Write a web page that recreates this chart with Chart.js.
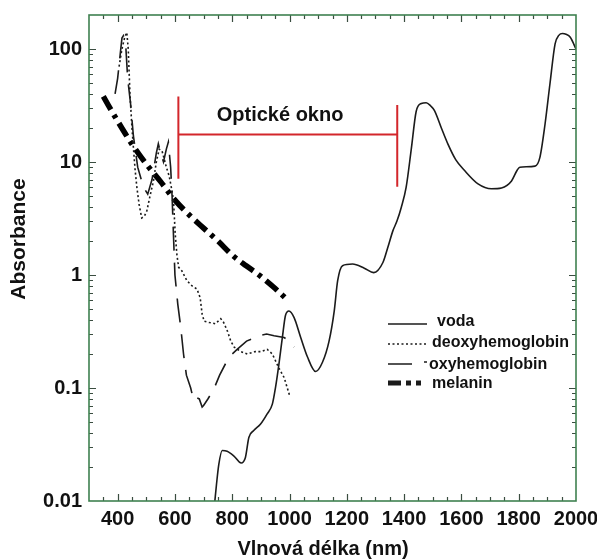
<!DOCTYPE html>
<html>
<head>
<meta charset="utf-8">
<script src="https://cdn.jsdelivr.net/npm/chart.js@4.4.1/dist/chart.umd.min.js"></script>
<style>
  html, body { margin: 0; padding: 0; background: #fff; }
  #wrap { width: 597px; height: 560px; }
</style>
</head>
<body>
<div id="wrap"><canvas id="c" width="597" height="560"></canvas></div>
<script>
// Absorption spectra (wavelength in nm, absorbance on a log scale)
const waterNm  = [739, 745, 753, 765, 782, 806, 831, 846, 858, 875, 899, 922, 940, 951, 963, 975, 986, 998, 1016, 1039, 1062, 1091, 1115, 1138, 1156, 1168, 1185, 1220, 1261, 1294, 1326, 1343, 1361, 1375, 1390, 1407, 1425, 1442, 1460, 1477, 1492, 1506, 1530, 1553, 1580, 1611, 1658, 1705, 1740, 1775, 1795, 1804, 1857, 1874, 1892, 1909, 1927, 1940, 1953, 1965, 1980, 2000];
const waterAbs = [0.0098, 0.014, 0.021, 0.028, 0.0276, 0.025, 0.0217, 0.0243, 0.0365, 0.042, 0.048, 0.059, 0.072, 0.101, 0.163, 0.28, 0.44, 0.48, 0.42, 0.28, 0.19, 0.14, 0.169, 0.26, 0.48, 0.89, 1.21, 1.25, 1.15, 1.05, 1.29, 1.75, 2.47, 3.0, 3.96, 5.96, 13, 28, 33, 33.5, 31.5, 28.5, 20, 14.4, 10.5, 8.4, 6.4, 5.8, 5.9, 6.8, 8.5, 9.0, 9.2, 11, 21.7, 49, 111, 132, 137, 135, 127, 100];

const deoxyNm  = [405, 415, 425, 432, 437, 443, 450, 455, 461, 467, 475, 484, 493, 502, 513, 525, 535, 545, 555, 561, 570, 580, 590, 595, 601, 607, 613, 624, 642, 660, 677, 688, 695, 702, 720, 741, 760, 770, 783, 795, 807, 830, 853, 880, 900, 922, 940, 963, 981, 1002];
const deoxyAbs = [70, 100, 128, 140, 100, 40, 20, 13.4, 8.5, 6, 4.2, 3.2, 3.3, 3.7, 5, 6.8, 10, 13, 12.5, 11, 9, 7.5, 5.5, 4.6, 2.3, 1.5, 1.17, 1.09, 0.89, 0.8, 0.75, 0.63, 0.45, 0.39, 0.38, 0.37, 0.41, 0.38, 0.32, 0.26, 0.23, 0.21, 0.2, 0.21, 0.21, 0.22, 0.2, 0.15, 0.124, 0.083];

const oxyNm  = [391, 400, 409, 415, 420, 428, 435, 445, 455, 470, 490, 505, 520, 535, 542, 550, 560, 570, 577, 585, 590, 595, 600, 610, 620, 630, 640, 655, 665, 675, 685, 695, 700, 715, 736, 756, 776, 800, 817, 850, 893, 920, 946, 981, 1000, 1016];
const oxyAbs = [40, 55, 90, 125, 131, 110, 55, 33, 17, 9, 6, 5.2, 7, 12, 14.5, 12, 10, 13, 15, 9, 5, 2.2, 1.0, 0.55, 0.35, 0.2, 0.13, 0.1, 0.078, 0.082, 0.08, 0.068, 0.07, 0.08, 0.098, 0.13, 0.163, 0.2, 0.22, 0.26, 0.29, 0.3, 0.29, 0.28, 0.26, 0.23];

const melaninNm  = [350, 400, 450, 500, 550, 600, 650, 700, 750, 800, 850, 900, 950, 990];
const melaninAbs = [38, 23, 14.4, 9.6, 6.7, 4.6, 3.4, 2.6, 2.0, 1.5, 1.2, 0.97, 0.76, 0.61];

// Optical window bracket
const windowNm = [612, 1376];
const windowLevel = 17.5;
const windowLeftBar = [38, 7.1];
const windowRightBar = [32, 6.05];
const windowLabel = 'Optické okno';
const windowLabelAt = [967, 25.7];

const seriesNames = ['voda', 'deoxyhemoglobin', 'oxyhemoglobin', 'melanin'];
const xTickValues = [400, 600, 800, 1000, 1200, 1400, 1600, 1800, 2000];
const yTickValues = [0.01, 0.1, 1, 10, 100];
const yTickLabels = ['0.01', '0.1', '1', '10', '100'];
const xTitle = 'Vlnová délka (nm)';
const yTitle = 'Absorbance';

const pts = (xs, ys) => xs.map((x, i) => ({ x, y: ys[i] }));

const INK = '#1b1b1b';
const RED = '#d3262b';
const FONT = '"Liberation Sans", Arial, Helvetica, sans-serif';

const bracket = [
  { x: windowNm[0], y: windowLeftBar[0] }, { x: windowNm[0], y: windowLeftBar[1] },
  { x: windowNm[0], y: null },
  { x: windowNm[0], y: windowLevel }, { x: windowNm[1], y: windowLevel },
  { x: windowNm[1], y: null },
  { x: windowNm[1], y: windowRightBar[0] }, { x: windowNm[1], y: windowRightBar[1] }
];

// Axis sizes are fixed so the plot frame sits at a known place
const fixScale = (w, h) => s => {
  if (w !== null) s.width = w;
  if (h !== null) s.height = h;
  s.paddingLeft = 0; s.paddingRight = 0; s.paddingTop = 0; s.paddingBottom = 0;
};

// Frame, inward ticks, titles, legend and bracket label
const decorations = {
  id: 'decorations',
  afterDatasetsDraw(chart) {
    const { ctx, chartArea: a, scales: { x, y } } = chart;
    ctx.save();

    // inward tick marks on all four sides
    ctx.strokeStyle = '#3a4d40';
    ctx.lineWidth = 1.2;
    ctx.beginPath();
    for (let v = 350; v < 2000; v += 50) {
      const px = Math.round(x.getPixelForValue(v)) + 0.5;
      const len = v % 200 === 0 ? 7 : 4;
      ctx.moveTo(px, a.bottom); ctx.lineTo(px, a.bottom - len);
      ctx.moveTo(px, a.top); ctx.lineTo(px, a.top + len);
    }
    for (let e = -2; e <= 2; e++) {
      for (let m = 1; m <= 9; m++) {
        const v = m * Math.pow(10, e);
        if (v <= 0.01 || v >= 200) continue;
        const py = Math.round(y.getPixelForValue(v)) + 0.5;
        const len = m === 1 ? 7 : 4;
        ctx.moveTo(a.left, py); ctx.lineTo(a.left + len, py);
        ctx.moveTo(a.right, py); ctx.lineTo(a.right - len, py);
      }
    }
    ctx.stroke();

    // plot frame
    ctx.strokeStyle = '#3f8150';
    ctx.lineWidth = 1.6;
    ctx.strokeRect(a.left, a.top, a.right - a.left, a.bottom - a.top);

    // axis titles
    ctx.fillStyle = '#111';
    ctx.textAlign = 'center';
    ctx.textBaseline = 'middle';
    ctx.font = 'bold 20px ' + FONT;
    ctx.fillText(xTitle, 323, 549);
    ctx.save();
    ctx.translate(19, 239);
    ctx.rotate(-Math.PI / 2);
    ctx.font = 'bold 21px ' + FONT;
    ctx.fillText(yTitle, 0, 0);
    ctx.restore();

    // optical window label
    ctx.font = 'bold 20px ' + FONT;
    ctx.fillText(windowLabel, x.getPixelForValue(windowLabelAt[0]), y.getPixelForValue(windowLabelAt[1]));

    // legend
    ctx.textAlign = 'left';
    ctx.font = 'bold 16px ' + FONT;
    ctx.strokeStyle = INK;
    ctx.lineCap = 'butt';

    ctx.lineWidth = 1.5; ctx.setLineDash([]);
    ctx.beginPath(); ctx.moveTo(388, 324); ctx.lineTo(427, 324); ctx.stroke();
    ctx.fillText(seriesNames[0], 437, 322);

    ctx.lineWidth = 1.5; ctx.setLineDash([2, 2.5]);
    ctx.beginPath(); ctx.moveTo(388, 344); ctx.lineTo(428, 344); ctx.stroke();
    ctx.setLineDash([]);
    ctx.fillText(seriesNames[1], 432, 343);

    ctx.lineWidth = 1.5;
    ctx.beginPath(); ctx.moveTo(388, 364); ctx.lineTo(412, 364); ctx.moveTo(424, 362); ctx.lineTo(427, 362); ctx.stroke();
    ctx.fillText(seriesNames[2], 429, 365);

    ctx.lineWidth = 5;
    ctx.beginPath(); ctx.moveTo(388, 383); ctx.lineTo(401, 383);
    ctx.moveTo(406, 383); ctx.lineTo(411, 383);
    ctx.moveTo(416, 383); ctx.lineTo(421, 383); ctx.stroke();
    ctx.fillText(seriesNames[3], 432, 384);

    ctx.restore();
  }
};

new Chart(document.getElementById('c'), {
  type: 'line',
  data: {
    datasets: [
      { label: seriesNames[0], data: pts(waterNm, waterAbs), borderColor: INK, borderWidth: 1.6, cubicInterpolationMode: 'monotone' },
      { label: seriesNames[1], data: pts(deoxyNm, deoxyAbs), borderColor: INK, borderWidth: 1.6, borderDash: [2, 2.5], tension: 0 },
      { label: seriesNames[2], data: pts(oxyNm, oxyAbs), borderColor: INK, borderWidth: 1.6, borderDash: [24, 12], tension: 0 },
      { label: seriesNames[3], data: pts(melaninNm, melaninAbs), borderColor: '#000', borderWidth: 5.5, borderDash: [15, 6, 4, 6], cubicInterpolationMode: 'monotone' },
      { label: windowLabel, data: bracket, borderColor: RED, borderWidth: 2, spanGaps: false, tension: 0 }
    ]
  },
  options: {
    responsive: false,
    animation: false,
    devicePixelRatio: 1,
    layout: { padding: { top: 15, right: 21, left: 0, bottom: 0 } },
    elements: { point: { radius: 0 }, line: { fill: false } },
    plugins: { legend: { display: false }, tooltip: { enabled: false } },
    scales: {
      x: {
        type: 'linear',
        min: 300, max: 2000,
        grid: { display: false, drawTicks: false },
        border: { display: false },
        afterBuildTicks: s => { s.ticks = xTickValues.map(v => ({ value: v })); },
        afterFit: fixScale(null, 59),
        ticks: {
          padding: 6,
          color: '#111',
          maxRotation: 0,
          autoSkip: false,
          font: { family: FONT, size: 20, weight: 'bold' },
          callback: v => String(v)
        }
      },
      y: {
        type: 'logarithmic',
        min: 0.01, max: 200,
        grid: { display: false, drawTicks: false },
        border: { display: false },
        afterBuildTicks: s => { s.ticks = yTickValues.map(v => ({ value: v })); },
        afterFit: fixScale(89, null),
        ticks: {
          padding: 7,
          color: '#111',
          autoSkip: false,
          font: { family: FONT, size: 20, weight: 'bold' },
          callback: v => yTickLabels[yTickValues.indexOf(v)] ?? ''
        }
      }
    }
  },
  plugins: [decorations]
});
</script>
</body>
</html>
